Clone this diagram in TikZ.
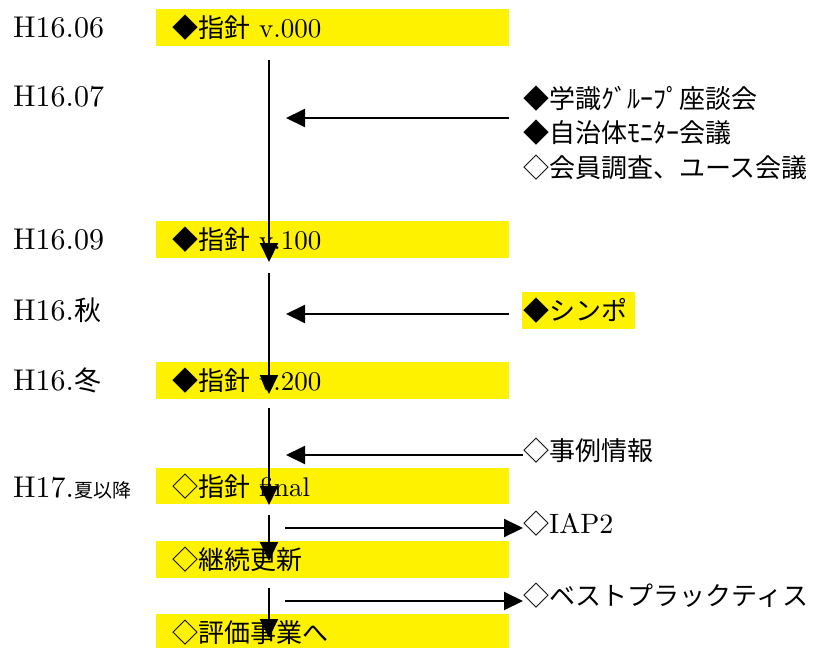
\documentclass[tikz,border=0pt]{standalone}
\usepackage{fontspec}
\setmainfont{lmroman10-regular}[Extension=.otf, BoldFont=lmroman10-bold]
\newfontfamily\jp{Noto Sans CJK JP}
\usetikzlibrary{arrows.meta}
\newcommand\Jt[2]{{\jp\fontsize{#1}{#1}\selectfont #2}}
\begin{document}
\begin{tikzpicture}[x=1pt,y=-1pt,
 ybox/.style={fill=yellow, draw=none, inner sep=0pt, anchor=north west, minimum width=353pt, minimum height=37pt},
 txt/.style={anchor=base west, inner sep=0pt},
 lbl/.style={txt, font=\fontsize{30}{32}\selectfont},
 btxt/.style={txt, font=\fontsize{27}{30}\selectfont},
 rtxt/.style={txt, font=\fontsize{28}{30}\selectfont},
 conn/.style={line width=2pt, -{Triangle[length=19pt,width=18pt]}}
]
\useasboundingbox (0,0) rectangle (835,648);

% left labels
\node[lbl] (l1) at (13,37) {H16.06};
\node[lbl] (l2) at (13,106) {H16.07};
\node[lbl] (l3) at (13,249) {H16.09};
\node[lbl] (l4) at (13,320) {H16.\Jt{27}{秋}};
\node[lbl] (l5) at (13,390) {H16.\Jt{27}{冬}};
\node[lbl] (l6) at (13,497) {H17.\Jt{19}{夏以降}};

% yellow boxes
\node[ybox] (b1) at (156,9) {};
\node[ybox] (b2) at (156,221) {};
\node[ybox] (b3) at (156,362) {};
\node[ybox, minimum height=36pt] (b4) at (156,468) {};
\node[ybox] (b5) at (156,541) {};
\node[ybox, minimum height=34pt] (b6) at (156,614) {};

% box texts
\node[btxt] (t1) at (172,37) {\Jt{26}{◆指針} v.000};
\node[btxt] (t2) at (172,249) {\Jt{26}{◆指針} v.100};
\node[btxt] (t3) at (172,390) {\Jt{26}{◆指針} v.200};
\node[btxt] (t4) at (172,496) {\Jt{26}{◇指針} final};
\node[btxt] (t5) at (172,569) {\Jt{26}{◇継続更新}};
\node[btxt] (t6) at (172,642) {\Jt{26}{◇評価事業へ}};

% right texts
\node[rtxt] (r1) at (523,108) {\Jt{26}{◆学識ｸﾞﾙｰﾌﾟ座談会}};
\node[rtxt] (r2) at (523,142) {\Jt{26}{◆自治体ﾓﾆﾀｰ会議}};
\node[rtxt] (r3) at (523,177) {\Jt{26}{◇会員調査、ユース会議}};
\node[fill=yellow, anchor=north west, minimum width=113pt, minimum height=37pt, inner sep=0pt] (sb) at (522,292) {};
\node[rtxt] (r4) at (523,320) {\Jt{26}{◆シンポ}};
\node[rtxt] (r5) at (523,460) {\Jt{26}{◇事例情報}};
\node[rtxt] (r6) at (523,533) {\Jt{26}{◇}IAP2};
\node[rtxt] (r7) at (523,605) {\Jt{26}{◇ベストプラックティス}};

% connector coordinates
\coordinate (v1s) at (269,60);  \coordinate (v1e) at (269,262);
\coordinate (v2s) at (269,273); \coordinate (v2e) at (269,394);
\coordinate (v3s) at (269,408); \coordinate (v3e) at (269,505);
\coordinate (v4s) at (269,515); \coordinate (v4e) at (269,561);
\coordinate (v5s) at (269,588); \coordinate (v5e) at (269,638);
\coordinate (h1s) at (509,118); \coordinate (h1e) at (286,118);
\coordinate (h2s) at (509,314); \coordinate (h2e) at (286,314);
\coordinate (h3s) at (523,455); \coordinate (h3e) at (286,455);
\coordinate (h4s) at (285,528); \coordinate (h4e) at (523,528);
\coordinate (h5s) at (285,601); \coordinate (h5e) at (523,601);

\draw[conn] (v1s) -- (v1e);
\draw[conn] (v2s) -- (v2e);
\draw[conn] (v3s) -- (v3e);
\draw[conn] (v4s) -- (v4e);
\draw[conn] (v5s) -- (v5e);
\draw[conn] (h1s) -- (h1e);
\draw[conn] (h2s) -- (h2e);
\draw[conn] (h3s) -- (h3e);
\draw[conn] (h4s) -- (h4e);
\draw[conn] (h5s) -- (h5e);
\end{tikzpicture}
\end{document}
